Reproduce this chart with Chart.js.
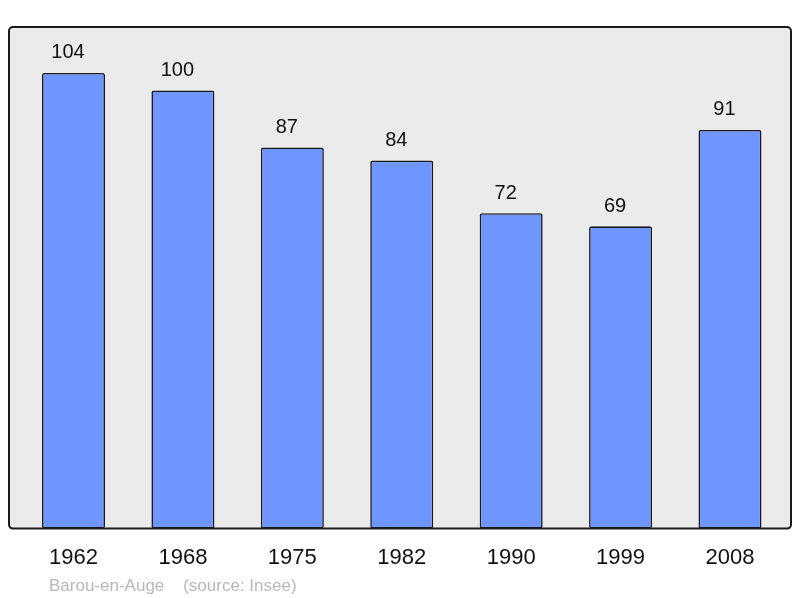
<!DOCTYPE html>
<html>
<head>
<meta charset="utf-8">
<script src="https://cdn.jsdelivr.net/npm/chart.js@4/dist/chart.umd.min.js"></script>
<style>
  html, body { margin: 0; padding: 0; background: #fff; }
  #wrap { width: 800px; height: 598px; }
</style>
</head>
<body>
<div id="wrap"><canvas id="popChart" width="800" height="598"></canvas></div>
<script>
// Population data
const years = ['1962', '1968', '1975', '1982', '1990', '1999', '2008'];
const population = [104, 100, 87, 84, 72, 69, 91];
const footerText = 'Barou-en-Auge    (source: Insee)';

// Grey frame behind the bars, outline drawn on top
const framePlugin = {
    id: 'frame',
    beforeDraw(chart) {
        const ctx = chart.ctx;
        const area = chart.chartArea;
        ctx.save();
        ctx.fillStyle = '#ebebeb';
        ctx.beginPath();
        ctx.roundRect(9, area.top, 782, area.bottom - area.top, 4);
        ctx.fill();
        ctx.restore();
    },
    afterDatasetsDraw(chart) {
        const ctx = chart.ctx;
        const area = chart.chartArea;
        ctx.save();
        ctx.strokeStyle = '#1a1a1a';
        ctx.lineWidth = 2;
        ctx.beginPath();
        ctx.roundRect(9, area.top, 782, area.bottom - area.top, 4);
        ctx.stroke();
        ctx.restore();
    }
};

// Value labels above each bar + source line
const labelPlugin = {
    id: 'valueLabels',
    afterDraw(chart) {
        const ctx = chart.ctx;
        const meta = chart.getDatasetMeta(0);
        ctx.save();
        ctx.font = '20px "Liberation Sans", Arial, sans-serif';
        ctx.fillStyle = '#111';
        ctx.textAlign = 'center';
        ctx.textBaseline = 'alphabetic';
        meta.data.forEach((bar, i) => {
            ctx.fillText(String(population[i]), bar.x - 5.5, bar.y - 14.5);
        });
        ctx.font = '17px "Liberation Sans", Arial, sans-serif';
        ctx.fillStyle = '#b8b8b8';
        ctx.textAlign = 'left';
        ctx.fillText(footerText, 49, 591);
        ctx.restore();
    }
};

const ctx = document.getElementById('popChart').getContext('2d');
new Chart(ctx, {
    type: 'bar',
    data: {
        labels: years,
        datasets: [{
            data: population,
            backgroundColor: '#6f96ff',
            borderColor: '#1a1a1a',
            borderWidth: 1.6,
            borderRadius: 2,
            borderSkipped: false,
            barPercentage: 0.576,
            categoryPercentage: 1
        }]
    },
    options: {
        responsive: false,
        devicePixelRatio: 1,
        animation: false,
        layout: {
            padding: { left: 18.8, right: 15.3, top: 27, bottom: 11 }
        },
        plugins: {
            legend: { display: false },
            tooltip: { enabled: false }
        },
        scales: {
            x: {
                offset: true,
                grid: { display: false, drawTicks: false },
                border: { display: false },
                ticks: {
                    color: '#111',
                    padding: 16,
                    font: { family: '"Liberation Sans", Arial, sans-serif', size: 22 }
                }
            },
            y: {
                display: false,
                min: 0,
                max: 114.5
            }
        }
    },
    plugins: [framePlugin, labelPlugin]
});
</script>
</body>
</html>
